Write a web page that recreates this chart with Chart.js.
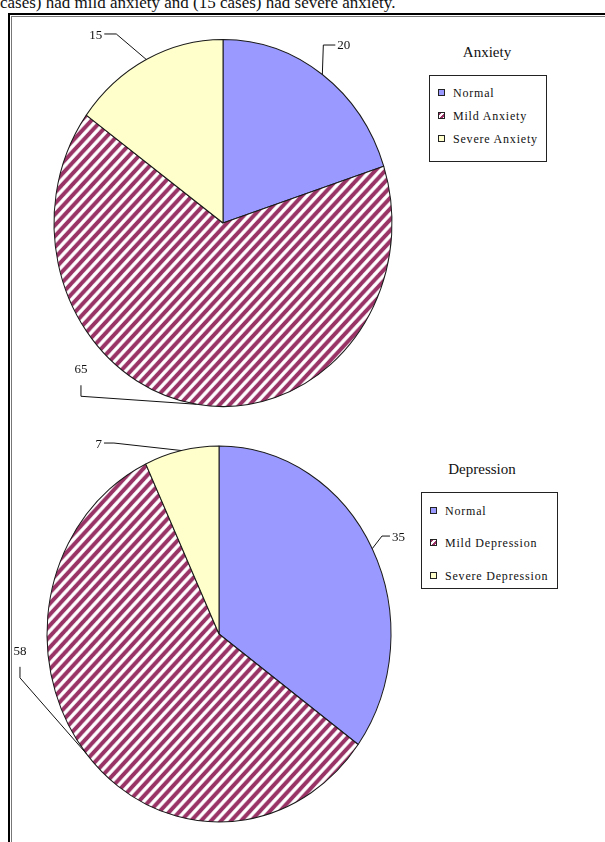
<!DOCTYPE html>
<html>
<head>
<meta charset="utf-8">
<script src="https://cdn.jsdelivr.net/npm/chart.js@4/dist/chart.umd.min.js"></script>
<style>
  html, body { margin: 0; padding: 0; background: #fff; }
  body { width: 605px; height: 842px; position: relative; overflow: hidden;
         font-family: "Liberation Serif", "Times New Roman", serif; color: #111; }
  .lead { position: absolute; left: 0; top: -6px; font-size: 17px; line-height: 17px; white-space: nowrap; }
  .rule { position: absolute; }
  canvas { position: absolute; left: 0; }
  .ttl { position: absolute; font-size: 15px; line-height: 15px; white-space: nowrap; transform: translateX(-50%); }
  .lg { position: absolute; box-sizing: border-box; border: 1px solid #222; background: #fff; }
  .lg .it { position: absolute; left: 23px; font-size: 12px; line-height: 12px; letter-spacing: 0.8px; white-space: nowrap; }
  .lg .sw { position: absolute; left: -15px; top: 2px; width: 5px; height: 5px; border: 1px solid #222; }
</style>
</head>
<body>
<div class="lead">cases) had mild anxiety and (15 cases) had severe anxiety.</div>
<div class="rule" style="left:8px;top:13px;width:597px;height:2px;background:#000"></div>
<div class="rule" style="left:11px;top:16px;width:594px;height:1px;background:#777"></div>
<div class="rule" style="left:8px;top:13px;width:2px;height:829px;background:#000"></div>
<div class="rule" style="left:11px;top:16px;width:1px;height:826px;background:#777"></div>

<canvas id="anxiety" width="446" height="446" style="top:0px"></canvas>
<canvas id="depression" width="438" height="416" style="top:426px"></canvas>

<div class="ttl" style="left:487px;top:45px">Anxiety</div>
<div class="lg" id="lgAnxiety" style="left:429px;top:75px;width:118px;height:87px"></div>
<div class="ttl" style="left:482px;top:462px">Depression</div>
<div class="lg" id="lgDepression" style="left:421px;top:492px;width:137px;height:97px"></div>

<script>
// Survey results (number of cases, out of 100)
const anxietyLabels = ['Normal', 'Mild Anxiety', 'Severe Anxiety'];
const anxietyValues = [20, 65, 15];
const depressionLabels = ['Normal', 'Mild Depression', 'Severe Depression'];
const depressionValues = [35, 58, 7];

const NORMAL = '#9999FF';
const MILD = '#993366';
const SEVERE = '#FFFFCC';

// Diagonal plum hatching used for the "mild" slices
function stripePattern(ctx) {
  const c = document.createElement('canvas');
  c.width = 10; c.height = 10;
  const g = c.getContext('2d');
  g.fillStyle = '#fff';
  g.fillRect(0, 0, 10, 10);
  g.strokeStyle = MILD;
  g.lineWidth = 3.8;
  g.beginPath();
  g.moveTo(-5, 5); g.lineTo(5, -5);
  g.moveTo(0, 10); g.lineTo(10, 0);
  g.moveTo(5, 15); g.lineTo(15, 5);
  g.stroke();
  return ctx.createPattern(c, 'repeat');
}

// Stretch the pie vertically into an oval
const ovalPlugin = {
  id: 'oval',
  beforeDatasetsDraw(chart, args, opts) {
    const a = chart.getDatasetMeta(0).data[0];
    const ctx = chart.ctx;
    ctx.save();
    ctx.translate(a.x, a.y);
    ctx.scale(1, opts.sy);
    ctx.translate(-a.x, -a.y);
  },
  afterDatasetsDraw(chart) {
    chart.ctx.restore();
  }
};

// Value labels with elbow leader lines, anchored at each slice's mid-angle
const leaderPlugin = {
  id: 'leaders',
  afterDatasetsDraw(chart, args, opts) {
    const ctx = chart.ctx;
    const sy = chart.options.plugins.oval.sy;
    const meta = chart.getDatasetMeta(0);
    const values = chart.data.datasets[0].data;
    meta.data.forEach((arc, i) => {
      const spec = opts.items[i];
      const mid = (arc.startAngle + arc.endAngle) / 2;
      const ax = arc.x + arc.outerRadius * Math.cos(mid);
      const ay = arc.y + sy * arc.outerRadius * Math.sin(mid);
      ctx.save();
      ctx.strokeStyle = '#111';
      ctx.lineWidth = 1;
      ctx.beginPath();
      ctx.moveTo(ax, ay);
      spec.pts.forEach(p => ctx.lineTo(ax + p[0], ay + p[1]));
      ctx.stroke();
      ctx.fillStyle = '#111';
      ctx.font = '13px "Liberation Serif", "Times New Roman", serif';
      ctx.textBaseline = 'middle';
      ctx.textAlign = spec.align;
      ctx.fillText(String(values[i]), ax + spec.text[0], ay + spec.text[1]);
      ctx.restore();
    });
  }
};

function pie(id, labels, values, radius, sy, items) {
  const ctx = document.getElementById(id).getContext('2d');
  return new Chart(ctx, {
    type: 'pie',
    data: {
      labels: labels,
      datasets: [{
        data: values,
        backgroundColor: [NORMAL, stripePattern(ctx), SEVERE],
        borderColor: '#1a1a1a',
        borderWidth: 1,
        radius: radius
      }]
    },
    options: {
      responsive: false,
      animation: false,
      events: [],
      layout: { padding: 0 },
      plugins: {
        legend: { display: false },
        tooltip: { enabled: false },
        title: { display: false },
        oval: { sy: sy },
        leaders: { items: items }
      }
    },
    plugins: [ovalPlugin, leaderPlugin]
  });
}

pie('anxiety', anxietyLabels, anxietyValues, 169, 1.086, [
  { pts: [[1, -29.5], [13, -29.5]], text: [15, -28.5], align: 'left' },
  { pts: [[-115.6, -8], [-115.6, -19]], text: [-115.6, -35], align: 'center' },
  { pts: [[-30, -25.5], [-42, -25.5]], text: [-44, -23.5], align: 'right' }
]);

pie('depression', depressionLabels, depressionValues, 172, 1.093, [
  { pts: [[9.7, -12.6], [17.7, -12.6]], text: [19.7, -10.6], align: 'left' },
  { pts: [[-66.5, -76], [-66.5, -87]], text: [-66.5, -102], align: 'center' },
  { pts: [[-67.5, -7.5], [-77.5, -7.5]], text: [-79.5, -5.5], align: 'right' }
]);

// Boxed legends built from the same labels and colours
function legend(id, labels, tops) {
  const box = document.getElementById(id);
  const fills = [NORMAL, 'repeating-linear-gradient(135deg,' + MILD + ' 0 2px,#fff 2px 4px)', SEVERE];
  labels.forEach((name, i) => {
    const it = document.createElement('div');
    it.className = 'it';
    it.style.top = tops[i] + 'px';
    it.textContent = name;
    const sw = document.createElement('span');
    sw.className = 'sw';
    sw.style.background = fills[i];
    it.appendChild(sw);
    box.appendChild(it);
  });
}
legend('lgAnxiety', anxietyLabels, [11, 34, 57]);
legend('lgDepression', depressionLabels, [12, 44, 77]);
</script>
</body>
</html>
